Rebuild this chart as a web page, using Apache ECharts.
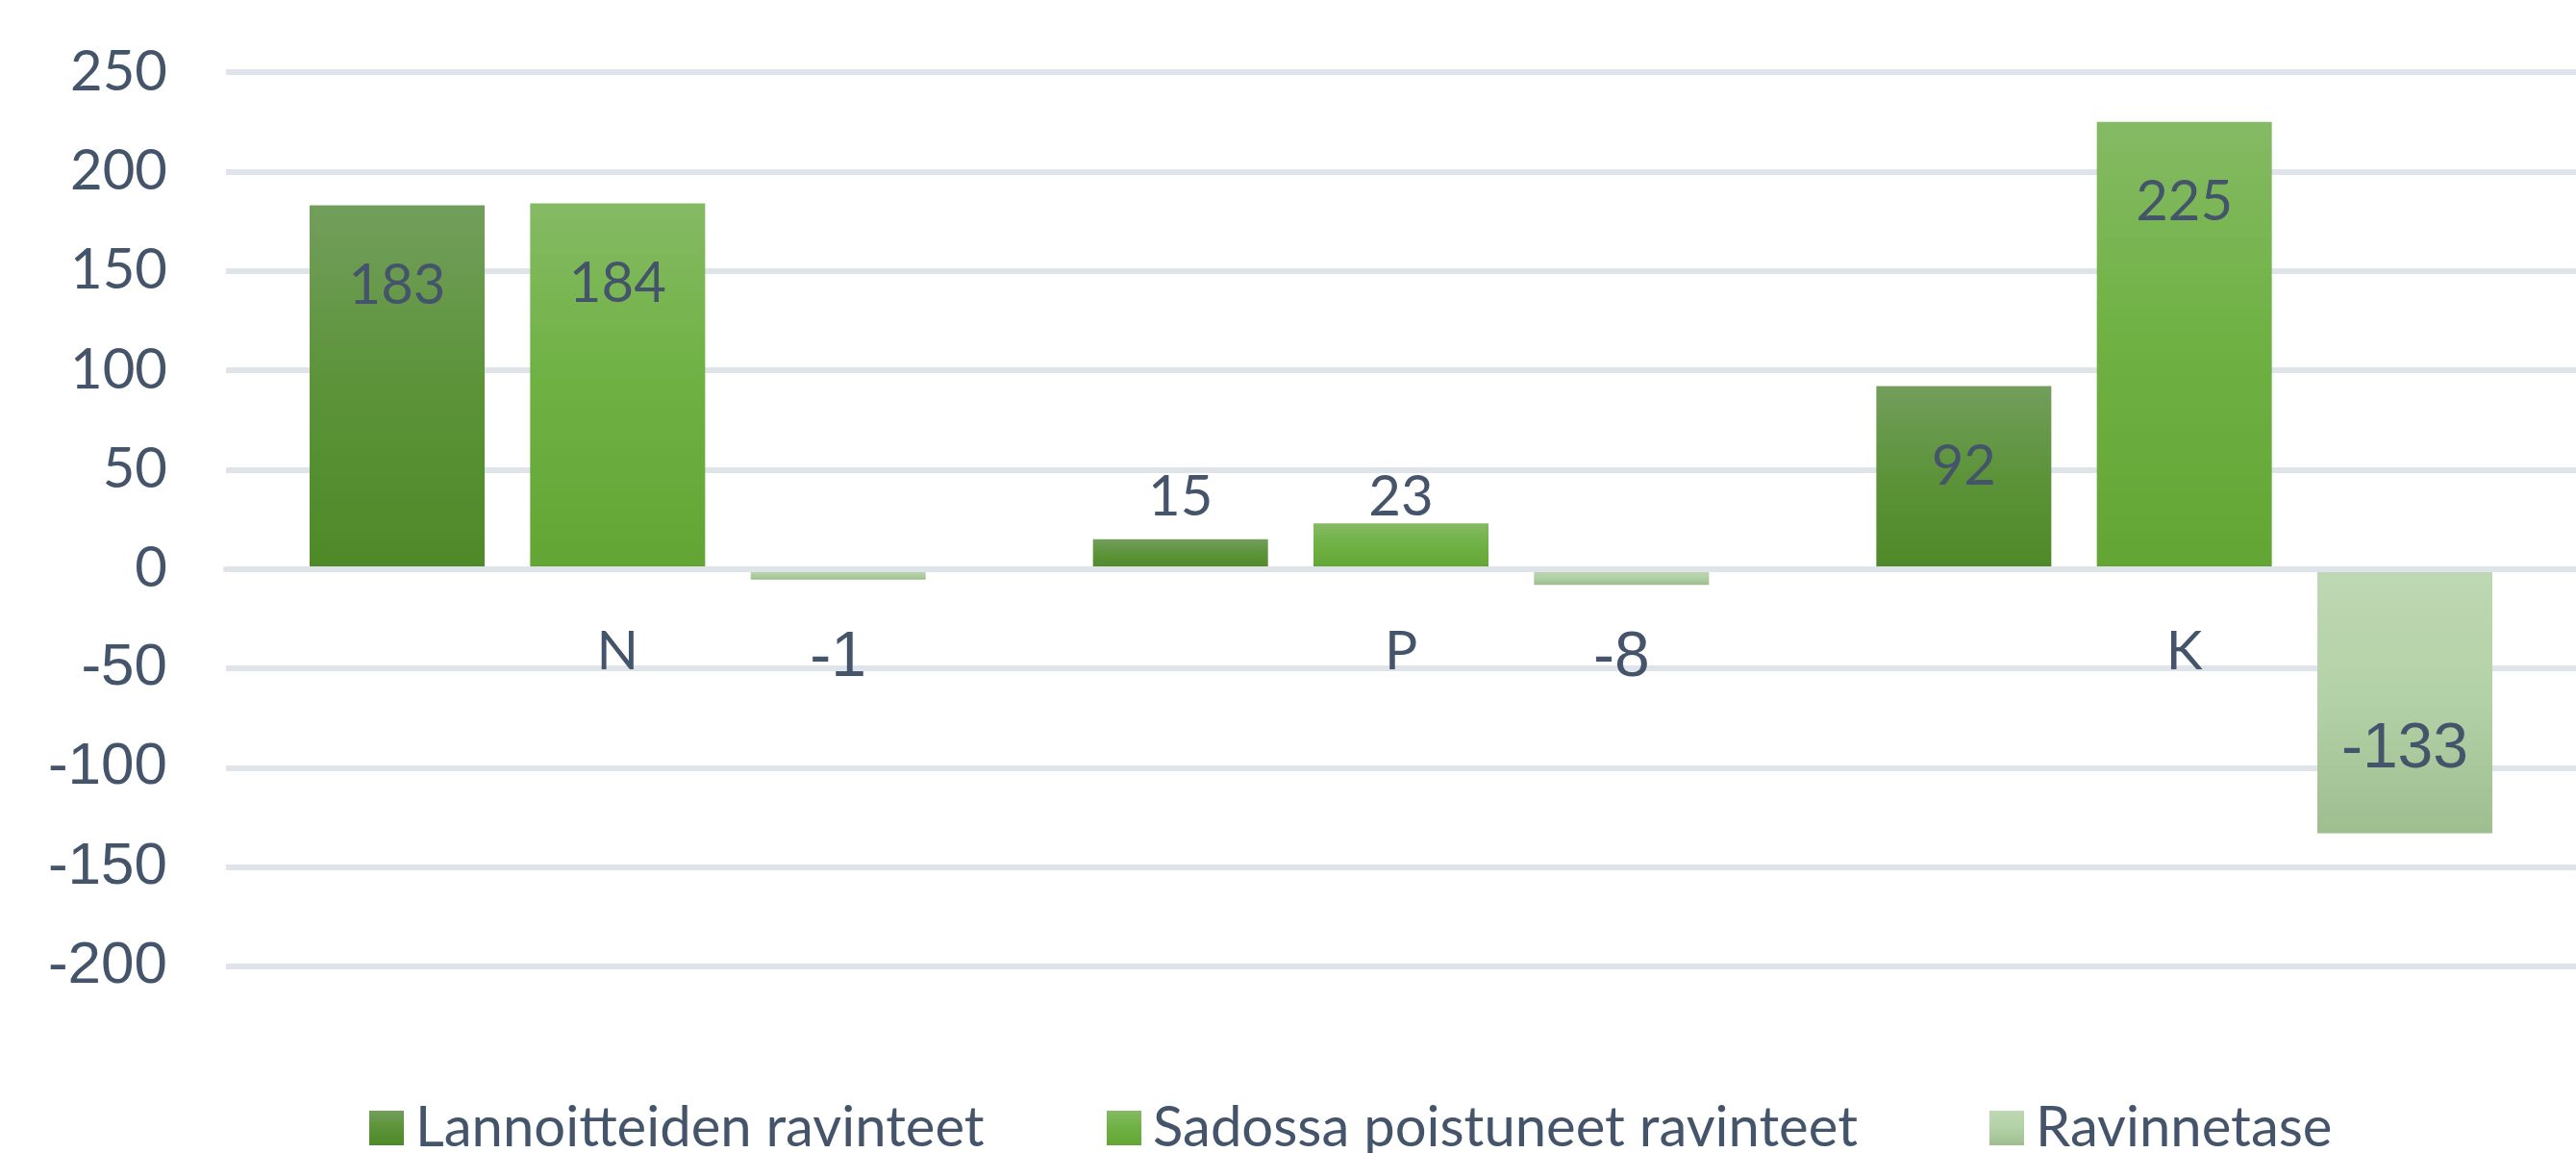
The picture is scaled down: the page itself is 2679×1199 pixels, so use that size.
<!DOCTYPE html>
<html>
<head>
<meta charset="utf-8">
<script src="https://cdn.jsdelivr.net/npm/echarts@6/dist/echarts.min.js"></script>
<style>
html,body{margin:0;padding:0;background:#fff;}
#chart{width:2679px;height:1199px;}
</style>
</head>
<body>
<div id="chart"></div>
<script>
const categories = ['N', 'P', 'K'];
const seriesNames = ['Lannoitteiden ravinteet', 'Sadossa poistuneet ravinteet', 'Ravinnetase'];
const lannoitteet = [183, 15, 92];
const sadossa = [184, 23, 225];
const ravinnetase = [-1, -8, -133];
const yTicks = [-200, -150, -100, -50, 0, 50, 100, 150, 200, 250];

const TEXT = '#44546A';
const SANS = 'Lato, "Open Sans", sans-serif';
const ARIAL = '"Liberation Sans", Arial, sans-serif';

const GRID_TOP = 75, GRID_BOTTOM = 194, CHART_H = 1199;
const yMin = yTicks[0], yMax = yTicks[yTicks.length - 1];
const gridH = CHART_H - GRID_TOP - GRID_BOTTOM;
// move the category axis up to the zero line
const zeroOffset = -gridH * (0 - yMin) / (yMax - yMin);

function grad(stops) {
  return {type: 'linear', x: 0, y: 0, x2: 0, y2: 1,
    colorStops: stops.map((c, i) => ({offset: i / (stops.length - 1), color: c}))};
}

// big bars: label inside near the end; small bars: label at a fixed place near the zero line
function posLabels(values) {
  return values.map(v => ({
    value: v,
    label: v >= 50 ? {position: 'insideTop', distance: 55} : {position: 'insideBottom', distance: 45}
  }));
}
function negLabels(values) {
  return values.map(v => ({
    value: v,
    label: v > -50 ? {position: 'insideTop', distance: 60} : {position: 'insideBottom', distance: 54}
  }));
}

const colors = [
  grad(['#729E5B', '#5C9339', '#4E8928']),
  grad(['#85BA64', '#6EB142', '#63A535']),
  grad(['#BED8B3', '#B3D1A6', '#9EBE90'])
];
const legendLefts = [379, 1146, 2064];

const chart = echarts.init(document.getElementById('chart'));
chart.setOption({
  animation: false,
  grid: {left: 235, right: -10, top: GRID_TOP, bottom: GRID_BOTTOM},
  legend: seriesNames.map((n, i) => ({
    left: legendLefts[i], top: 1138,
    itemWidth: 36, itemHeight: 36,
    icon: 'rect',
    textStyle: {color: TEXT, fontFamily: SANS, fontSize: 58, lineHeight: 60, padding: [0, 0, 0, 7]},
    data: [n]
  })),
  xAxis: {
    type: 'category',
    data: categories,
    z: 5,
    offset: zeroOffset,
    axisLine: {show: true, onZero: false, lineStyle: {color: '#DFE3EA', width: 6}},
    axisTick: {show: false},
    axisLabel: {color: TEXT, fontFamily: SANS, fontSize: 57, margin: 86, verticalAlign: 'middle'},
    splitLine: {show: false}
  },
  yAxis: {
    type: 'value',
    min: yMin, max: yMax, interval: 50,
    axisLine: {show: false},
    axisTick: {show: false},
    splitLine: {lineStyle: {color: '#DFE3EA', width: 6}},
    axisLabel: {
      margin: 61,
      formatter: v => (v < 0 ? '{n|' + v + '}' : '{p|' + v + '}'),
      rich: {
        p: {color: TEXT, fontFamily: SANS, fontSize: 58},
        n: {color: TEXT, fontFamily: ARIAL, fontSize: 62}
      }
    }
  },
  series: [
    {
      name: seriesNames[0], type: 'bar', barWidth: 182, barGap: '26%',
      data: posLabels(lannoitteet),
      itemStyle: {color: colors[0]},
      label: {show: true, color: TEXT, fontFamily: SANS, fontSize: 58}
    },
    {
      name: seriesNames[1], type: 'bar', barWidth: 182, barGap: '26%',
      data: posLabels(sadossa),
      itemStyle: {color: colors[1]},
      label: {show: true, color: TEXT, fontFamily: SANS, fontSize: 58}
    },
    {
      name: seriesNames[2], type: 'bar', barWidth: 182, barGap: '26%', barMinHeight: 11,
      data: negLabels(ravinnetase),
      itemStyle: {color: colors[2]},
      label: {show: true, color: TEXT, fontFamily: ARIAL, fontSize: 66}
    }
  ]
});
</script>
</body>
</html>
